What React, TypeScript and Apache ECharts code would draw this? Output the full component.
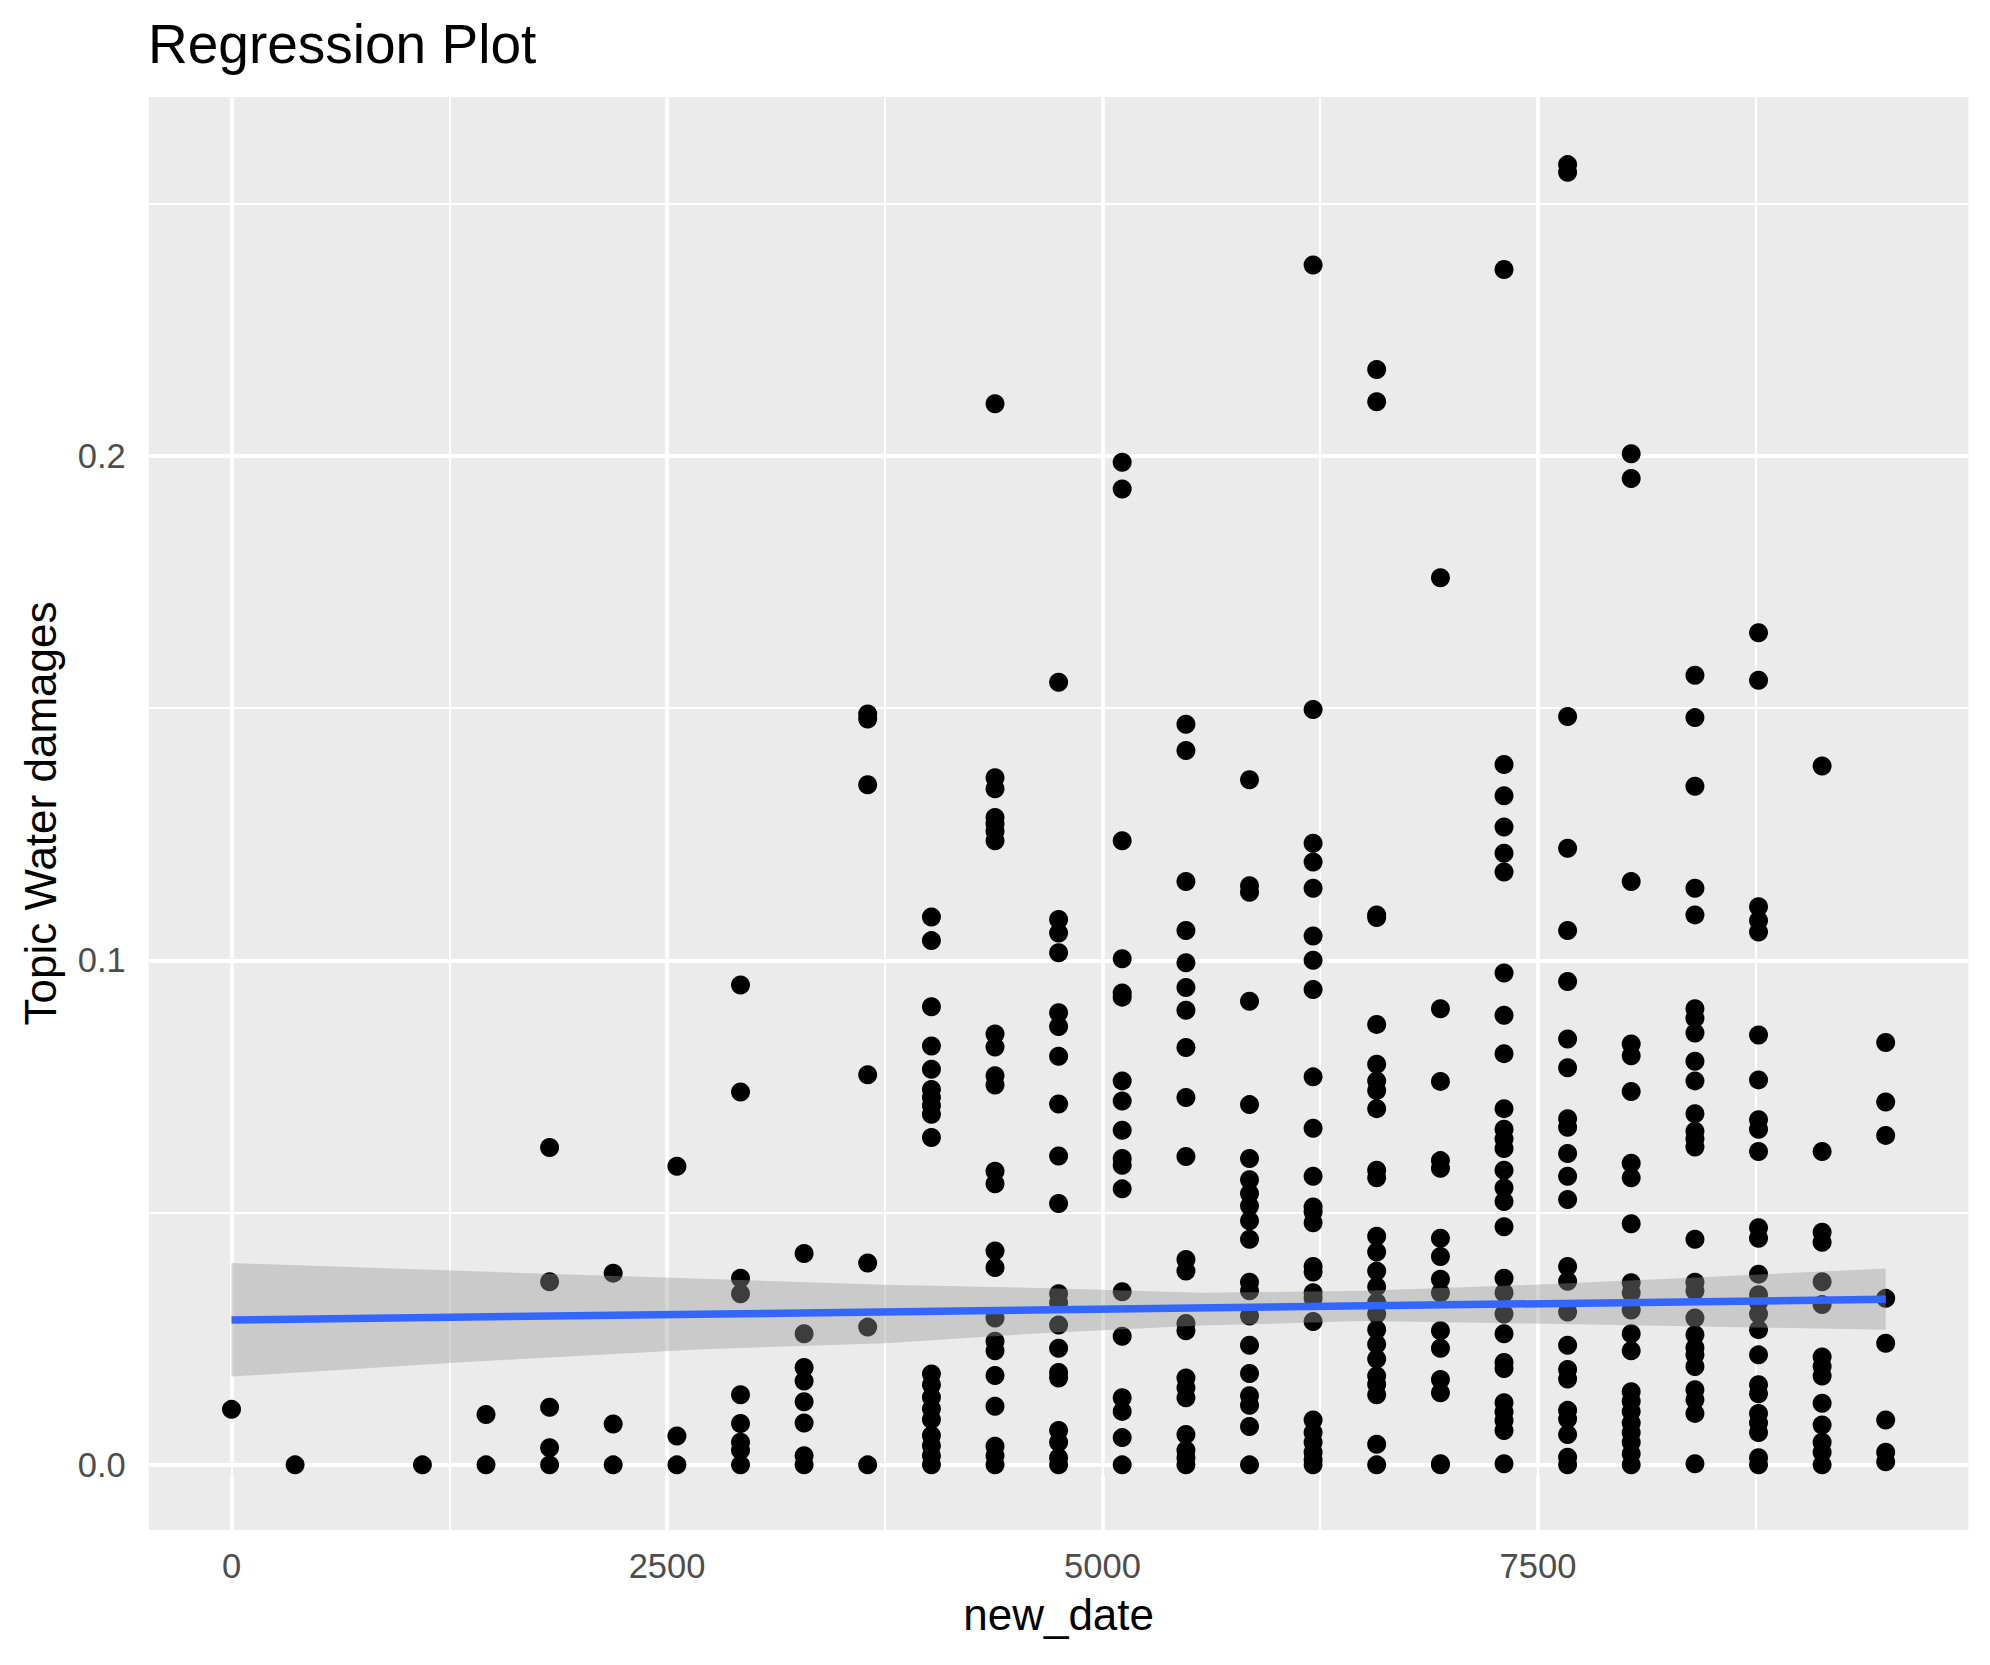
import React, { useEffect, useRef } from "react";
import * as echarts from "echarts";

// new_date values (days) of each column of points
const dates = [
  0, 365, 1096, 1461, 1826, 2191, 2557, 2922, 3287, 3652, 4018, 4383, 4748,
  5113, 5479, 5844, 6209, 6574, 6940, 7305, 7670, 8035, 8401, 8766, 9131, 9496,
];

// "Topic Water damages" values observed at each date
const topicValues: number[][] = [
  [0.011],
  [0],
  [0],
  [0.01, 0],
  [0.0629, 0.0363, 0.0114, 0.0034, 0],
  [0.038, 0.0081, 0],
  [0.0592, 0.0057, 0],
  [0.0951, 0.0739, 0.037, 0.0339, 0.0139, 0.0082, 0.0045, 0.0029, 0],
  [0.0419, 0.026, 0.0193, 0.0166, 0.0125, 0.0083, 0.0018, 0],
  [0.1488, 0.1478, 0.1348, 0.0773, 0.04, 0.0273, 0],
  [0.1086, 0.1039, 0.0908, 0.083, 0.0784, 0.0744, 0.0728, 0.0712, 0.0695, 0.0649, 0.018, 0.0159, 0.0134, 0.0111, 0.009, 0.0058, 0.0038, 0.0018, 0],
  [0.2103, 0.1362, 0.134, 0.1283, 0.127, 0.1256, 0.1237, 0.0854, 0.0828, 0.0771, 0.0753, 0.0582, 0.0557, 0.0424, 0.0391, 0.0291, 0.0245, 0.0226, 0.0177, 0.0116, 0.0037, 0.0018, 0],
  [0.1551, 0.1081, 0.1054, 0.1015, 0.0896, 0.0869, 0.081, 0.0715, 0.0612, 0.0518, 0.0339, 0.0322, 0.0277, 0.0231, 0.0183, 0.0172, 0.0068, 0.0045, 0.0014, 0],
  [0.1987, 0.1934, 0.1237, 0.1003, 0.0935, 0.0927, 0.0761, 0.0721, 0.0663, 0.0607, 0.0594, 0.0547, 0.0343, 0.0255, 0.0133, 0.0106, 0.0054, 0],
  [0.1468, 0.1416, 0.1156, 0.1059, 0.0995, 0.0946, 0.0901, 0.0827, 0.0728, 0.0611, 0.0407, 0.0384, 0.028, 0.0266, 0.0172, 0.0153, 0.0133, 0.006, 0.0029, 0.0014, 0],
  [0.1358, 0.1148, 0.1135, 0.0919, 0.0714, 0.0607, 0.0565, 0.0538, 0.0513, 0.0484, 0.0447, 0.0362, 0.0345, 0.0295, 0.0237, 0.0181, 0.0137, 0.0118, 0.0076, 0],
  [0.2378, 0.1497, 0.1232, 0.1195, 0.1143, 0.1048, 0.1, 0.0942, 0.0769, 0.0667, 0.0572, 0.0511, 0.0501, 0.048, 0.0393, 0.0382, 0.0341, 0.033, 0.0284, 0.0089, 0.0064, 0.0045, 0.0025, 0.001, 0],
  [0.2171, 0.2107, 0.109, 0.1085, 0.0873, 0.0794, 0.0761, 0.0742, 0.0706, 0.0584, 0.0569, 0.0453, 0.0422, 0.0384, 0.0353, 0.0322, 0.0299, 0.0268, 0.0239, 0.021, 0.0176, 0.016, 0.0139, 0.0041, 0],
  [0.1758, 0.0904, 0.076, 0.0603, 0.0588, 0.0449, 0.0413, 0.0368, 0.0341, 0.0266, 0.0231, 0.0169, 0.0143, 0.0002, 0],
  [0.2369, 0.1388, 0.1326, 0.1264, 0.1212, 0.1175, 0.0975, 0.0891, 0.0815, 0.0706, 0.0665, 0.0646, 0.0627, 0.0584, 0.0549, 0.0522, 0.0472, 0.037, 0.0341, 0.0299, 0.026, 0.0203, 0.0191, 0.0123, 0.0105, 0.0088, 0.0068, 0.0002],
  [0.2577, 0.2562, 0.1483, 0.1222, 0.1059, 0.0958, 0.0844, 0.0787, 0.0686, 0.0669, 0.0617, 0.0572, 0.0526, 0.0393, 0.0364, 0.0303, 0.0237, 0.0189, 0.017, 0.0108, 0.0091, 0.006, 0.0015, 0],
  [0.2004, 0.1955, 0.1156, 0.0834, 0.0811, 0.074, 0.0598, 0.0569, 0.0478, 0.0361, 0.0341, 0.0307, 0.026, 0.0226, 0.0145, 0.0126, 0.0106, 0.0083, 0.0064, 0.0045, 0.0022, 0],
  [0.1565, 0.1481, 0.1345, 0.1143, 0.109, 0.0904, 0.0885, 0.0856, 0.08, 0.0761, 0.0696, 0.0661, 0.0646, 0.063, 0.0447, 0.0362, 0.0345, 0.0291, 0.0258, 0.0232, 0.0218, 0.0195, 0.0149, 0.0129, 0.0102, 0.0002],
  [0.1649, 0.1555, 0.1106, 0.1079, 0.1056, 0.0852, 0.0763, 0.0684, 0.0665, 0.0621, 0.047, 0.0449, 0.0378, 0.0337, 0.0322, 0.0299, 0.0268, 0.0218, 0.0159, 0.0141, 0.0102, 0.0083, 0.0064, 0.0014, 0],
  [0.1385, 0.0621, 0.0461, 0.0441, 0.0363, 0.0318, 0.0214, 0.0195, 0.0176, 0.0122, 0.0079, 0.0045, 0.0025, 0],
  [0.0837, 0.0719, 0.0653, 0.033, 0.0241, 0.0089, 0.0025, 0.0006],
];

// confidence band of the linear fit
const bandX = [0, 1350, 2699, 3750, 4700, 5568, 6500, 7479, 8438, 9496];
const bandLower = [0.0175, 0.0204, 0.0229, 0.0241, 0.0262, 0.0276, 0.0285, 0.028, 0.0274, 0.0268];
const bandUpper = [0.04, 0.0384, 0.0369, 0.0357, 0.035, 0.0341, 0.0345, 0.0357, 0.0372, 0.0389];

// fitted regression line
const fitX = [0, 9496];
const fitY = [0.0287, 0.0328];

// axes
const xTicks = [0, 2500, 5000, 7500];
const xMinorTicks = [1250, 3750, 6250, 8750];
const yTicks = [0, 0.1, 0.2];
const yMinorTicks = [0.05, 0.15, 0.25];
const xLimits = [-474.8, 9970.8];
const yLimits = [-0.01291, 0.2711];

const FONT = "Liberation Sans";

export default function App() {
  const ref = useRef<HTMLDivElement>(null);

  useEffect(() => {
    if (!ref.current) return;
    const chart = echarts.init(ref.current, undefined, { renderer: "svg" });

    const points: number[][] = [];
    dates.forEach((d, i) => {
      topicValues[i].forEach((v) => points.push([d, v]));
    });

    const gridLines: any[] = [];
    xTicks.forEach((v) => gridLines.push({ xAxis: v, lineStyle: { width: 3.8 } }));
    xMinorTicks.forEach((v) => gridLines.push({ xAxis: v, lineStyle: { width: 1.9 } }));
    yTicks.forEach((v) => gridLines.push({ yAxis: v, lineStyle: { width: 3.8 } }));
    yMinorTicks.forEach((v) => gridLines.push({ yAxis: v, lineStyle: { width: 1.9 } }));

    const fitData = fitX.map((x, i) => [x, fitY[i]]);

    const option: any = {
      animation: false,
      backgroundColor: "#FFFFFF",
      title: {
        text: "Regression Plot",
        left: 148,
        top: 16.5,
        padding: 0,
        textStyle: {
          fontFamily: FONT,
          fontSize: 55,
          fontWeight: "normal",
          color: "#000000",
        },
      },
      grid: {
        left: 148.8,
        top: 97,
        width: 1819.6,
        height: 1433,
        show: true,
        backgroundColor: "#EBEBEB",
        borderWidth: 0,
        containLabel: false,
        outerBoundsMode: "none",
      },
      xAxis: {
        type: "value",
        min: xLimits[0],
        max: xLimits[1],
        name: "new_date",
        nameLocation: "middle",
        nameGap: 62.8,
        nameTextStyle: { fontFamily: FONT, fontSize: 44, color: "#000000" },
        axisLine: { show: false },
        axisTick: {
          show: true,
          customValues: xTicks,
          length: 11,
          lineStyle: { color: "#333333", width: 3.6 },
        },
        axisLabel: {
          show: true,
          customValues: xTicks,
          margin: 18.4,
          fontFamily: FONT,
          fontSize: 34.5,
          color: "#4D4D4D",
          formatter: (v: number) => String(v),
        },
        splitLine: { show: false },
      },
      yAxis: {
        type: "value",
        min: yLimits[0],
        max: yLimits[1],
        name: "Topic Water damages",
        nameLocation: "middle",
        nameRotate: 90,
        nameGap: 86,
        nameTextStyle: { fontFamily: FONT, fontSize: 44, color: "#000000" },
        axisLine: { show: false },
        axisTick: {
          show: true,
          customValues: yTicks,
          length: 11,
          lineStyle: { color: "#333333", width: 3.6 },
        },
        axisLabel: {
          show: true,
          customValues: yTicks,
          margin: 23,
          fontFamily: FONT,
          fontSize: 34.5,
          color: "#4D4D4D",
          formatter: (v: number) => v.toFixed(1),
        },
        splitLine: { show: false },
      },
      series: [
        {
          type: "scatter",
          data: points,
          symbol: "circle",
          symbolSize: 19,
          itemStyle: { color: "#000000", opacity: 1 },
          z: 2,
          silent: true,
          markLine: {
            z: 1,
            silent: true,
            symbol: ["none", "none"],
            label: { show: false },
            lineStyle: { color: "#FFFFFF", type: "solid", opacity: 1 },
            emphasis: { disabled: true },
            data: gridLines,
          },
        },
        {
          type: "custom",
          z: 3,
          silent: true,
          data: [[bandX[0], bandLower[0]]],
          renderItem: (params: any, api: any) => {
            const pts: number[][] = [];
            bandX.forEach((x, i) => pts.push(api.coord([x, bandUpper[i]])));
            for (let i = bandX.length - 1; i >= 0; i--) {
              pts.push(api.coord([bandX[i], bandLower[i]]));
            }
            return {
              type: "polygon",
              shape: { points: pts },
              style: { fill: "rgba(153,153,153,0.4)", stroke: "none" },
            };
          },
        },
        {
          type: "line",
          data: fitData,
          z: 4,
          silent: true,
          symbol: "none",
          lineStyle: { color: "#3366FF", width: 7.5 },
        },
      ],
    };

    chart.setOption(option);
    return () => chart.dispose();
  }, []);

  return (
    <div
      ref={ref}
      style={{ position: "absolute", left: 0, top: 0, width: 1990, height: 1665 }}
    />
  );
}
